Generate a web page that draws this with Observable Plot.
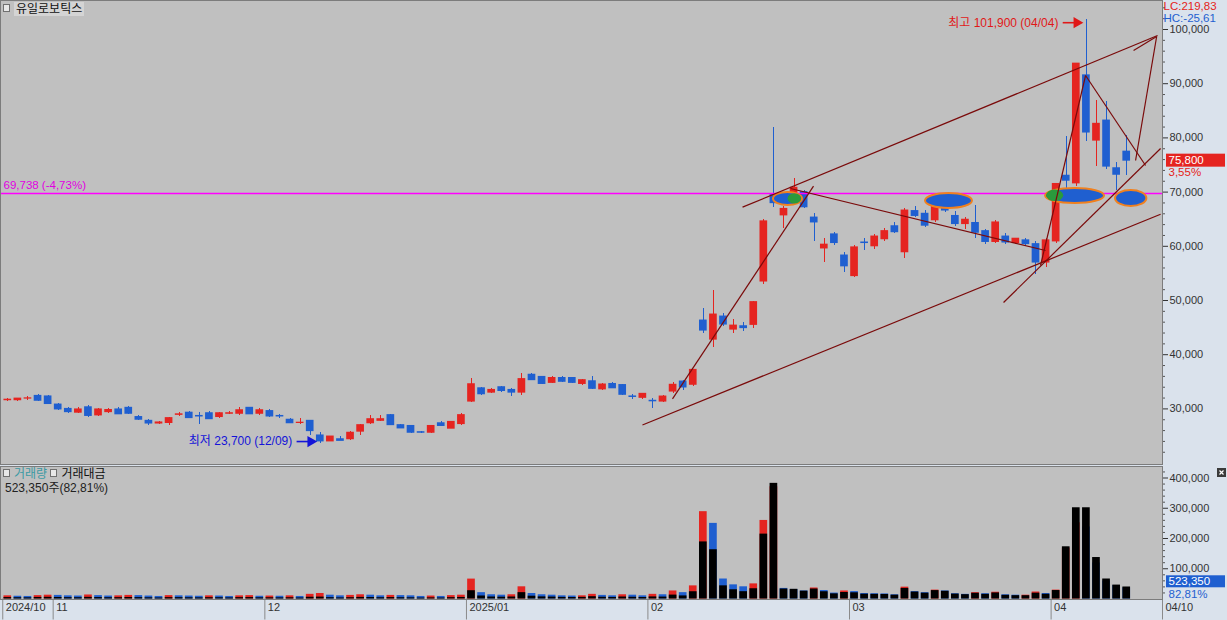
<!DOCTYPE html>
<html><head><meta charset="utf-8">
<script src="https://cdn.jsdelivr.net/npm/d3@7"></script>
<script src="https://cdn.jsdelivr.net/npm/@observablehq/plot@0.6"></script>
<style>
html,body{margin:0;padding:0;background:#dae2ec;}
#wrap{position:relative;width:1227px;height:620px;overflow:hidden;background:#dae2ec;font-family:'Liberation Sans','Noto Sans CJK KR',sans-serif;}
#wrap > svg{position:absolute;left:0;display:block;}
.hdr{position:absolute;font-size:12px;line-height:14px;white-space:nowrap;}
.ico{display:inline-block;width:5px;height:6px;border:1px solid #707070;background:#e8e8e8;margin-right:4px;vertical-align:1px;}
</style></head><body><div id="wrap"></div>
<script>
// ---------------- DATA ----------------
const dates = [
"2024-10-25","2024-10-28","2024-10-29","2024-10-30","2024-10-31",
"2024-11-01","2024-11-04","2024-11-05","2024-11-06","2024-11-07","2024-11-08","2024-11-11","2024-11-12","2024-11-13","2024-11-14","2024-11-15","2024-11-18","2024-11-19","2024-11-20","2024-11-21","2024-11-22","2024-11-25","2024-11-26","2024-11-27","2024-11-28","2024-11-29",
"2024-12-02","2024-12-03","2024-12-04","2024-12-05","2024-12-06","2024-12-09","2024-12-10","2024-12-11","2024-12-12","2024-12-13","2024-12-16","2024-12-17","2024-12-18","2024-12-19","2024-12-20","2024-12-23","2024-12-24","2024-12-26","2024-12-27","2024-12-30",
"2025-01-02","2025-01-03","2025-01-06","2025-01-07","2025-01-08","2025-01-09","2025-01-10","2025-01-13","2025-01-14","2025-01-15","2025-01-16","2025-01-17","2025-01-20","2025-01-21","2025-01-22","2025-01-23","2025-01-24","2025-01-31",
"2025-02-03","2025-02-04","2025-02-05","2025-02-06","2025-02-07","2025-02-10","2025-02-11","2025-02-12","2025-02-13","2025-02-14","2025-02-17","2025-02-18","2025-02-19","2025-02-20","2025-02-21","2025-02-24","2025-02-25","2025-02-26","2025-02-27","2025-02-28",
"2025-03-04","2025-03-05","2025-03-06","2025-03-07","2025-03-10","2025-03-11","2025-03-12","2025-03-13","2025-03-14","2025-03-17","2025-03-18","2025-03-19","2025-03-20","2025-03-21","2025-03-24","2025-03-25","2025-03-26","2025-03-27","2025-03-28","2025-03-31",
"2025-04-01","2025-04-02","2025-04-03","2025-04-04","2025-04-07","2025-04-08","2025-04-09","2025-04-10"];

const open = [
31600,31600,31900,32400,32300,
30800,30000,29300,30300,28800,29400,29900,30200,28500,27800,27300,27400,28900,29300,28700,29200,28500,29100,29100,30200,29100,
29600,28700,28000,27400,27800,25100,24000,24400,24400,25800,27350,27800,28850,27000,26850,25700,25600,27350,26350,27200,
31350,33800,33000,34000,33500,33000,36300,35900,34800,35700,35700,34600,35100,33600,34600,34400,32300,32040,
31500,31350,33200,35050,34450,46300,42780,47040,44630,45250,45500,53500,69450,65700,69750,70000,65300,59600,62200,58300,
54500,60700,60000,61300,63700,58900,66500,66000,64800,68500,65600,64100,64300,62800,60800,61800,60600,61100,60400,57000,
60900,73020,71610,91540,79500,83200,74400,77460];
const high = [
31900,32000,32200,32600,32500,
31000,30300,30200,30600,30100,30000,30300,30500,28800,28100,27700,28500,29400,29500,29300,29500,29300,29500,30300,30300,30000,
29900,29000,28200,28200,27900,25600,25000,24900,25800,27100,28800,28700,28900,27100,26900,25900,27000,27600,27700,29200,
35600,34000,33700,34100,33700,36500,36500,36000,35900,35900,35800,35400,36000,34600,34800,34500,32600,32900,
32000,32500,34900,35300,37300,48500,51850,47600,46500,45900,49800,65000,81850,67300,72540,70300,66000,61500,62600,58800,
60200,61500,62200,63200,64300,66900,67300,66600,68300,69800,66400,65400,67500,63100,64800,62300,61500,61400,60800,61500,
71600,80250,93700,101900,86900,86700,75420,80370];
const low = [
31300,31400,31600,31300,30800,
29700,29200,29100,28500,28600,29100,28900,28900,27800,27000,27100,26900,28600,28200,27200,28000,28200,28900,28800,28900,28700,
28500,28300,27300,27100,25100,23700,23900,24100,24200,25100,27200,27600,26900,26300,25400,25400,25500,26700,26300,27000,
31200,32500,32800,33100,32300,32500,35200,34500,34600,34900,34700,34400,33600,33400,33700,32500,31800,31800,
30000,31200,32800,33400,34200,44000,41350,45200,43900,44260,44800,53000,67220,63300,69000,67000,60900,57000,60200,55200,
54300,59300,59500,60800,62300,57800,65300,63500,64300,66200,63700,63100,61500,60400,60500,60400,60300,60000,54800,56000,
60500,70000,71000,79320,74800,74200,70370,73150];
const close = [
31700,31900,31950,31500,30900,
29900,29400,29900,28700,29900,29800,29000,29100,28000,27300,27500,28300,29000,28300,28600,28100,29200,29200,29750,29000,29750,
28600,28600,27350,27450,25900,24000,24900,24100,25600,27000,28100,28100,27000,26400,25600,25600,26850,26850,27600,28850,
34550,32700,33500,33300,33000,35500,35300,34600,35700,35000,34800,35300,33700,34500,33800,32600,32200,32780,
31400,32280,34450,33950,37200,44450,47410,45560,45370,44900,49700,64600,67960,66900,70800,67200,64400,60300,60600,56300,
59800,60600,61800,62800,62600,66600,65600,63800,67900,66600,64100,64900,62500,60800,64400,60700,61400,60400,57000,61100,
71500,72100,93700,80990,82600,74700,73200,75800];

// 거래량 (thousand shares) and 거래대금 (million won)
const volumeK = [
150,130,120,160,180,
170,150,140,190,160,140,150,170,160,140,120,160,150,140,130,150,140,120,150,160,130,
140,130,150,120,220,260,180,150,170,200,180,150,170,160,150,120,140,120,160,180,
940,300,200,180,200,576,260,200,180,150,140,150,220,170,150,200,180,150,
220,200,380,300,620,4124,3571,944,668,576,714,3710,5300,500,450,380,520,400,280,380,
350,260,250,240,200,560,350,300,420,380,250,220,300,250,320,200,180,180,330,260,
420,2400,3600,3400,1700,850,632,523];
const valueM = [
4700,4100,3800,5100,5600,
5100,4400,4200,5500,4700,4200,4400,5000,4500,3900,3300,4500,4400,4000,3700,4300,4100,3500,4500,4700,3900,
4000,3700,4100,3300,5800,6300,4400,3600,4300,5300,5000,4200,4700,4200,3900,3100,3700,3200,4400,5100,
27400,10000,6600,6000,6600,21000,9300,7000,6400,5300,4900,5300,7600,5800,5100,6600,5800,4900,
6900,6400,12900,10200,24000,188700,162900,43500,30600,24200,33900,214500,382300,33000,32000,26000,33000,24000,17000,21500,
20500,15800,15300,15000,12700,35000,23000,19300,27800,25600,16200,14300,19000,15400,20000,12200,11000,10900,19200,15600,
28000,172600,301600,301600,137100,66100,46000,39700];

const monthLabels = ["2024/10","11","12","2025/01","02","03","04"];
const monthStarts = ["2024-10-25","2024-11-01","2024-12-02","2025-01-02","2025-02-03","2025-03-04","2025-04-01"];
const priceTicks = [30000,40000,50000,60000,70000,80000,90000,100000];
const valueTicks = [100000,200000,300000,400000];

const refPrice = 69738, refText = "69,738 (-4,73%)";
const lcText = "LC:219,83", hcText = "HC:-25,61";
const lastChangeText = "3,55%";
const lastVolText = "523,350", lastVolPctText = "82,81%";

// user-drawn trend lines: [startIndex, startPrice, endIndex, endPrice]
const trendX1 = [72.89, 62.96, 65.94, 77.65, 102.45, 106.92, 98.78, 111.88, 111.68];
const trendY1 = [67222, 27037, 31852, 70664, 56458, 91513, 49631, 75830, 96125];
const trendX2 = [114.06, 114.36, 79.93, 102.95, 106.92, 112.87, 114.36, 113.97, 113.97];
const trendY2 = [98889, 65926, 71110, 59225, 91513, 74908, 78044, 98708, 98708];

// highlight ellipses: index range and price range
const ellX1 = [75.96, 91.04, 102.95, 109.89];
const ellX2 = [78.84, 95.70, 108.80, 113.00];
const ellY1 = [67528, 66974, 67897, 67343];
const ellY2 = [69926, 69742, 70664, 70295];
// green parts inside two of the ellipses
const accX1 = [77.40, 103.05];
const accX2 = [78.75, 104.75];
const accY1 = [67800, 68250];
const accY2 = [69700, 70400];

// ---------------- BUILD ----------------
const RED = "#e52420", BLUE = "#1f5fd0", LINE = "#7a0a0a", GREY = "#c0c0c0", EDGE = "#7c7c7c";
const X_MIN = -0.724, X_MAX = 114.55;
const FONT = "'Liberation Sans','Noto Sans CJK KR',sans-serif";
const fmt = d3.format(",");

const candles = dates.map((d, i) => ({i, date: d, o: open[i], h: high[i], l: low[i], c: close[i],
  vol: volumeK[i], val: valueM[i],
  color: close[i] >= open[i] ? RED : BLUE,
  vcolor: (i === 0 || volumeK[i] >= volumeK[i - 1]) ? RED : BLUE}));
const trends = trendX1.map((x, k) => ({x1: x, y1: trendY1[k], x2: trendX2[k], y2: trendY2[k]}));
const ells = ellX1.map((x, k) => ({x1: x, x2: ellX2[k], y1: ellY1[k], y2: ellY2[k]}));
const accs = accX1.map((x, k) => ({x1: x, x2: accX2[k], y1: accY1[k], y2: accY2[k]}));

const hiIdx = d3.maxIndex(high), loIdx = d3.minIndex(low);
const mmdd = s => s.slice(5).replace("-", "/");
const hiText = `최고 ${fmt(high[hiIdx])} (${mmdd(dates[hiIdx])})`;
const loText = `최저 ${fmt(low[loIdx])} (${mmdd(dates[loIdx])})`;
const last = candles[candles.length - 1];

function annotation(idx, p, text, color, dy) {
  const d = [{idx, p, text}];
  return [
    Plot.text(d, {x: "idx", y: "p", text: "text", textAnchor: "end", dx: -28, dy, fill: color, fontSize: 12}),
    Plot.link(d, {x1: r => r.idx - 2.35, x2: r => r.idx - 0.95, y1: "p", y2: "p", dy, stroke: color, strokeWidth: 1.6}),
    Plot.dot(d, {x: r => r.idx - 0.95, y: "p", dy, symbol: "triangle", rotate: 90, r: 4.2, fill: color, stroke: "none"})
  ];
}

const minorPrice = d3.range(22000, 104001, 2000).filter(v => v % 10000 !== 0);
const minorValue = d3.range(20000, 420001, 20000).filter(v => v % 100000 !== 0);

const xScale = {type: "linear", domain: [X_MIN, X_MAX]};

const price = Plot.plot({
  width: 1227, height: 465,
  marginLeft: 0, marginRight: 65, marginTop: 0, marginBottom: 1,
  x: {...xScale, axis: null},
  y: {domain: [19742, 105351], axis: null},
  style: {background: "transparent", fontFamily: FONT, fontSize: "11px", overflow: "visible"},
  marks: [
    Plot.frame({fill: GREY}),
    Plot.ruleX(candles, {x: "i", y1: "l", y2: "h", stroke: "color", strokeWidth: 1, shapeRendering: "crispEdges"}),
    Plot.rect(candles, {x1: d => d.i - 0.5, x2: d => d.i + 0.5, y1: "o", y2: "c", fill: "color",
      insetLeft: 1.2, insetRight: 1.2, insetTop: -0.5, insetBottom: -0.5}),
    Plot.ruleY([refPrice], {stroke: "magenta", strokeWidth: 1.3}),
    Plot.rect(ells, {x1: "x1", x2: "x2", y1: "y1", y2: "y2", fill: BLUE, stroke: "#f0801e", strokeWidth: 2, rx: 200, ry: 200}),
    Plot.rect(accs, {x1: "x1", x2: "x2", y1: "y1", y2: "y2", fill: "#2a9a3c", rx: 200, ry: 200}),
    Plot.link(trends, {x1: "x1", y1: "y1", x2: "x2", y2: "y2", stroke: LINE, strokeWidth: 1.2}),
    Plot.text([refPrice], {y: d => d, text: () => refText, frameAnchor: "left", textAnchor: "start", dx: 3, dy: -8, fill: "#e000e0", fontSize: 11.5}),
    ...annotation(hiIdx, high[hiIdx], hiText, "#e01818", 3.5),
    ...annotation(loIdx, low[loIdx], loText, "#1414d8", -1.5),
    // right axis
    Plot.ruleY(minorPrice, {x1: X_MAX, x2: X_MAX, insetRight: -3, stroke: "#555"}),
    Plot.axisY({anchor: "right", label: null, ticks: priceTicks, tickSize: 5, tickPadding: 2, tickFormat: fmt, color: "#333", fontSize: 11}),
    Plot.frame({stroke: EDGE}),
    Plot.text([lcText], {frameAnchor: "top-right", textAnchor: "start", lineAnchor: "top", dx: 1, dy: 1, fill: RED, fontSize: 11.5}),
    Plot.text([hcText], {frameAnchor: "top-right", textAnchor: "start", lineAnchor: "top", dx: 1, dy: 13, fill: BLUE, fontSize: 11.5}),
    Plot.rect([last.c], {x1: X_MAX, x2: X_MAX, y1: d => d, y2: d => d, insetLeft: 4, insetRight: -63, insetTop: -6.5, insetBottom: -6.5, fill: RED}),
    Plot.text([last.c], {y: d => d, text: d => fmt(d), frameAnchor: "right", textAnchor: "start", dx: 6, fill: "white", fontSize: 11.5}),
    Plot.text([last.c], {y: d => d, text: () => lastChangeText, frameAnchor: "right", textAnchor: "start", dx: 6, dy: 12, fill: RED, fontSize: 11.5})
  ]
});
price.style.top = "0px";

const tickPos = monthStarts.map(s => dates.indexOf(s) - 0.5).concat([X_MAX]);
const tickLab = monthLabels.concat([mmdd(last.date)]);
const labMap = new Map(tickPos.map((t, k) => [t, tickLab[k]]));

const VMAX = 100000 * 132.5 / 30.25;
const volume = Plot.plot({
  width: 1227, height: 155,
  marginLeft: 0, marginRight: 65, marginTop: 1, marginBottom: 21,
  x: {...xScale, axis: null},
  y: {domain: [0, VMAX], range: [133.5, 1], axis: null},
  style: {background: "transparent", fontFamily: FONT, fontSize: "11px", overflow: "visible"},
  marks: [
    Plot.frame({fill: GREY}),
    Plot.rect(candles, {x1: d => d.i - 0.5, x2: d => d.i + 0.5, y1: 0, y2: d => d.vol * 70, fill: "vcolor", insetLeft: 1.2, insetRight: 1.2}),
    Plot.rect(candles, {x1: d => d.i - 0.5, x2: d => d.i + 0.5, y1: 0, y2: "val", fill: "black", insetLeft: 1.2, insetRight: 1.2}),
    Plot.ruleY(minorValue, {x1: X_MAX, x2: X_MAX, insetRight: -3, stroke: "#555"}),
    Plot.axisY({anchor: "right", label: null, ticks: valueTicks, tickSize: 5, tickPadding: 2, tickFormat: fmt, color: "#333", fontSize: 11}),
    Plot.ruleX(tickPos, {y1: 0, y2: 0, insetBottom: -21, stroke: "#8a8a8a"}),
    Plot.axisX({anchor: "bottom", label: null, ticks: tickPos, tickSize: 0, tickPadding: 4, tickFormat: d => labMap.get(d), textAnchor: "start", dx: 3, color: "#333", fontSize: 11}),
    Plot.frame({stroke: EDGE}),
    Plot.rect([last.val], {x1: X_MAX, x2: X_MAX, y1: d => d, y2: d => d, insetLeft: 4, insetRight: -63, insetTop: -11.2, insetBottom: -0.8, fill: BLUE}),
    Plot.text([last.val], {y: d => d, text: () => lastVolText, frameAnchor: "right", textAnchor: "start", dx: 6, dy: -5.2, fill: "white", fontSize: 11.5}),
    Plot.text([last.val], {y: d => d, text: () => lastVolPctText, frameAnchor: "right", textAnchor: "start", dx: 6, dy: 7, fill: BLUE, fontSize: 11.5})
  ]
});
volume.style.top = "465px";

const wrap = document.getElementById("wrap");
wrap.appendChild(price);
wrap.appendChild(volume);

// headers (legend-like text)
const h1 = document.createElement("div");
h1.className = "hdr";
h1.style.left = "3px"; h1.style.top = "2px";
h1.innerHTML = '<span class="ico"></span><span style="background:#d4d4d4;color:#111;padding:0 2px;">유일로보틱스</span>';
wrap.appendChild(h1);

const h2 = document.createElement("div");
h2.className = "hdr";
h2.style.left = "3px"; h2.style.top = "467px";
h2.innerHTML = '<span class="ico"></span><span style="color:#3a9aa4;">거래량</span> <span class="ico"></span><span style="color:#111;">거래대금</span>';
wrap.appendChild(h2);

const h3 = document.createElement("div");
h3.className = "hdr";
h3.style.left = "5px"; h3.style.top = "481px";
h3.style.color = "#222";
h3.textContent = "523,350주(82,81%)";
wrap.appendChild(h3);

// small close icon (graphic only)
const ns = "http://www.w3.org/2000/svg";
const xi = document.createElementNS(ns, "svg");
xi.setAttribute("width", "9"); xi.setAttribute("height", "9");
xi.style.cssText = "position:absolute;left:1217px;top:468px;";
xi.innerHTML = '<rect x="0" y="0" width="9" height="9" fill="#3a3a3a"/><path d="M2.5,2.5L6.5,6.5M6.5,2.5L2.5,6.5" stroke="#fff" stroke-width="1.2"/>';
wrap.appendChild(xi);
</script></body></html>
